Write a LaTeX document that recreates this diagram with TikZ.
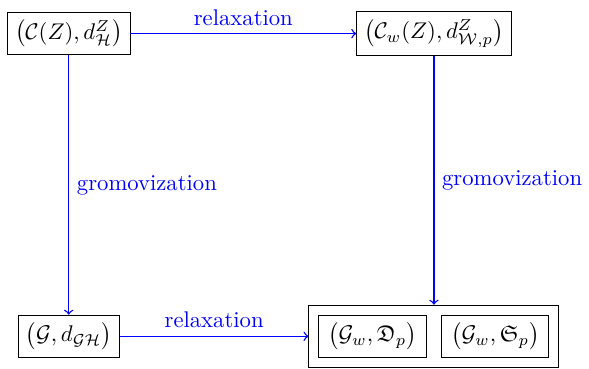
\documentclass[tikz,border=0pt]{standalone}
\usepackage{amsmath,amssymb}
\usetikzlibrary{positioning, fit}

\begin{document}
\begin{tikzpicture}[
  box/.style={draw, rectangle},
  pairbox/.style={box, minimum width=1.66cm},
  arr/.style={->, blue, semithick},
  lbl/.style={text=blue},
]
  \useasboundingbox (-3.1pt,5.3pt) rectangle (256.6pt,-157.4pt);

  \node[box, anchor=north west] (C) at (0,0) {$\big(\mathcal{C}(Z), d^Z_{\mathcal{H}}\big)$};
  \node[box, right=3.5cm of C] (Cw) {$\big(\mathcal{C}_w(Z), d^Z_{\mathcal{W},p}\big)$};
  \node[box, below=4.02cm of C] (G) {$\big(\mathcal{G}, d_{\mathcal{GH}}\big)$};

  \coordinate (mid) at (Cw |- G);
  \node[pairbox, left=0.115cm of mid] (Dp) {$\big(\mathcal{G}_w, \mathfrak{D}_p\big)$};
  \node[pairbox, right=0.115cm of mid] (Sp) {$\big(\mathcal{G}_w, \mathfrak{S}_p\big)$};
  \node[box, fit=(Dp)(Sp), inner sep=4.2pt] (Gw) {};

  \draw[arr] (C) -- node[lbl, above] {relaxation} (Cw);
  \draw[arr] (C) -- node[lbl, right] {gromovization} (G);
  \draw[arr] (Cw) -- node[lbl, right] {gromovization} (Gw);
  \draw[arr] (G) -- node[lbl, above] {relaxation} (Gw);
\end{tikzpicture}
\end{document}
